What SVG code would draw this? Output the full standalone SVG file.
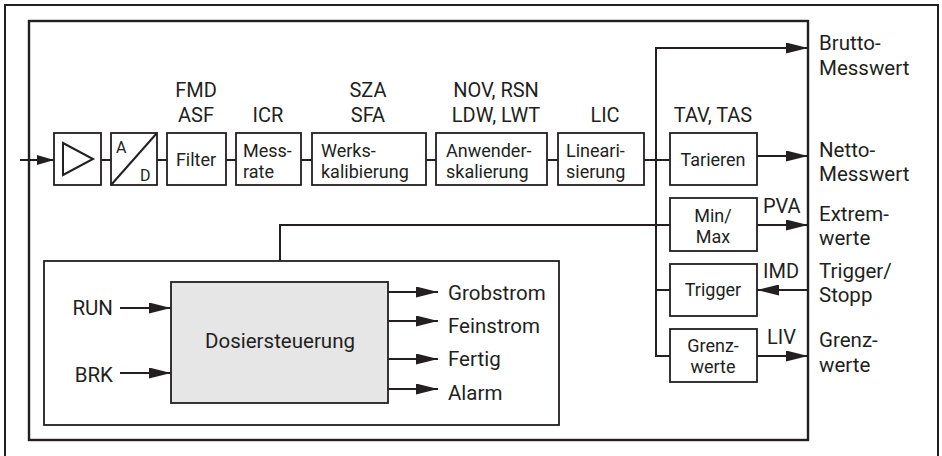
<svg xmlns="http://www.w3.org/2000/svg" width="942" height="456" viewBox="0 0 942 456">
<style>
.box{fill:#fff;stroke:#231f20;stroke-width:1.8}
.frame{fill:none;stroke:#231f20;stroke-width:2.4}
.ln{fill:none;stroke:#231f20;stroke-width:2}
text{font-family:Roboto,"Liberation Sans",sans-serif;fill:#231f20}
.lb{font-size:20px;text-anchor:middle}
.ls{font-size:20px}
.bt{font-size:18px}
.bc{font-size:18px;text-anchor:middle}
.rt{font-size:20.5px}
.ot{font-size:20.5px}
.oe{font-size:20.5px;text-anchor:end}
.om{font-size:20.5px;text-anchor:middle}
</style>
<defs>
<marker id="ah" markerUnits="userSpaceOnUse" markerWidth="22" markerHeight="11" refX="22" refY="5.5" orient="auto">
<path d="M0,0 L22,5.5 L0,11 z" fill="#231f20"/>
</marker>
<marker id="ahs" markerUnits="userSpaceOnUse" markerWidth="17" markerHeight="10" refX="17" refY="5" orient="auto">
<path d="M0,0 L17,5 L0,10 z" fill="#231f20"/>
</marker>
</defs>
<rect x="0" y="0" width="942" height="456" fill="#fff"/>
<rect class="frame" x="5" y="5" width="933" height="470" style="stroke-width:2"/>
<rect class="frame" x="29" y="21" width="779" height="419"/>

<g id="amp">
<rect class="box" x="54" y="133" width="47" height="52"/>
<polygon class="ln" points="63,143 93,159 63,175"/>
</g>
<g id="adc">
<rect class="box" x="111" y="133" width="46" height="52"/>
<line class="ln" x1="111" y1="185" x2="157" y2="133"/>
<text class="bt" x="116" y="153" style="font-size:16px">A</text>
<text class="bt" x="140" y="181" style="font-size:16px">D</text>
</g>
<g id="filter">
<text class="lb" x="196" y="97">FMD</text>
<text class="lb" x="196" y="122">ASF</text>
<rect class="box" x="167" y="133" width="59" height="52"/>
<text class="bc" x="196" y="166">Filter</text>
</g>
<g id="messrate">
<text class="lb" x="268" y="122">ICR</text>
<rect class="box" x="236" y="133" width="65" height="52"/>
<text class="bt" x="243" y="157">Mess-</text>
<text class="bt" x="243" y="178">rate</text>
</g>
<g id="werks">
<text class="lb" x="368" y="97">SZA</text>
<text class="lb" x="368" y="122">SFA</text>
<rect class="box" x="312" y="133" width="114" height="52"/>
<text class="bt" x="321" y="157">Werks-</text>
<text class="bt" x="321" y="178">kalibierung</text>
</g>
<g id="anwender">
<text class="lb" x="496" y="97">NOV, RSN</text>
<text class="lb" x="496" y="122">LDW, LWT</text>
<rect class="box" x="436" y="133" width="111" height="52"/>
<text class="bt" x="446" y="157">Anwender-</text>
<text class="bt" x="446" y="178">skalierung</text>
</g>
<g id="linear">
<text class="lb" x="605" y="122">LIC</text>
<rect class="box" x="558" y="133" width="86" height="52"/>
<text class="bt" x="566" y="157">Lineari-</text>
<text class="bt" x="566" y="178">sierung</text>
</g>
<g id="tarieren">
<text class="lb" x="713" y="122">TAV, TAS</text>
<rect class="box" x="670" y="133" width="87" height="52"/>
<text class="bc" x="713" y="166">Tarieren</text>
</g>
<g id="minmax">
<rect class="box" x="670" y="198" width="87" height="53"/>
<text class="bc" x="713" y="222">Min/</text>
<text class="bc" x="713" y="243">Max</text>
<text class="ls" x="763" y="213">PVA</text>
</g>
<g id="trigger">
<rect class="box" x="670" y="264" width="87" height="52"/>
<text class="bc" x="713" y="296">Trigger</text>
<text class="ls" x="763" y="278">IMD</text>
</g>
<g id="grenzwerte">
<rect class="box" x="670" y="329" width="87" height="53"/>
<text class="bc" x="713" y="352">Grenz-</text>
<text class="bc" x="713" y="373">werte</text>
<text class="ls" x="767" y="344">LIV</text>
</g>
<g id="outputs">
<text class="rt" x="819" y="50">Brutto-</text>
<text class="rt" x="819" y="75">Messwert</text>
<text class="rt" x="819" y="157">Netto-</text>
<text class="rt" x="819" y="181">Messwert</text>
<text class="rt" x="819" y="221">Extrem-</text>
<text class="rt" x="819" y="245">werte</text>
<text class="rt" x="819" y="278">Trigger/</text>
<text class="rt" x="819" y="302">Stopp</text>
<text class="rt" x="819" y="347">Grenz-</text>
<text class="rt" x="819" y="372">werte</text>
</g>
<g id="dosier">
<rect class="box" x="44" y="261" width="515" height="164"/>
<rect class="box" x="171" y="282" width="217" height="121" style="fill:#e6e6e7"/>
<text class="om" x="280" y="348">Dosiersteuerung</text>
<text class="oe" x="113" y="315">RUN</text>
<text class="oe" x="113" y="382">BRK</text>
<text class="ot" x="448" y="300">Grobstrom</text>
<text class="ot" x="448" y="333">Feinstrom</text>
<text class="ot" x="448" y="366">Fertig</text>
<text class="ot" x="448" y="400">Alarm</text>
</g>

<g id="connectors">
<line class="ln" x1="20" y1="160" x2="54" y2="160" marker-end="url(#ahs)"/>
<line class="ln" x1="101" y1="160" x2="111" y2="160"/>
<line class="ln" x1="157" y1="160" x2="167" y2="160"/>
<line class="ln" x1="226" y1="160" x2="236" y2="160"/>
<line class="ln" x1="301" y1="160" x2="312" y2="160"/>
<line class="ln" x1="426" y1="160" x2="436" y2="160"/>
<line class="ln" x1="547" y1="160" x2="558" y2="160"/>
<line class="ln" x1="644" y1="160" x2="670" y2="160"/>
<polyline class="ln" points="656,48 656,356 670,356"/>
<line class="ln" x1="655" y1="48" x2="808" y2="48" marker-end="url(#ah)"/>
<line class="ln" x1="656" y1="290" x2="670" y2="290"/>
<polyline class="ln" points="280,261 280,225 670,225"/>
<line class="ln" x1="757" y1="156" x2="808" y2="156" marker-end="url(#ah)"/>
<line class="ln" x1="757" y1="225" x2="808" y2="225" marker-end="url(#ah)"/>
<line class="ln" x1="808" y1="290" x2="757" y2="290" marker-end="url(#ah)"/>
<line class="ln" x1="757" y1="356" x2="808" y2="356" marker-end="url(#ah)"/>
<line class="ln" x1="120" y1="308" x2="171" y2="308" marker-end="url(#ah)"/>
<line class="ln" x1="120" y1="373" x2="171" y2="373" marker-end="url(#ah)"/>
<line class="ln" x1="388" y1="292" x2="438" y2="292" marker-end="url(#ah)"/>
<line class="ln" x1="388" y1="321" x2="438" y2="321" marker-end="url(#ah)"/>
<line class="ln" x1="388" y1="359" x2="438" y2="359" marker-end="url(#ah)"/>
<line class="ln" x1="388" y1="389" x2="438" y2="389" marker-end="url(#ah)"/>
</g>
</svg>
